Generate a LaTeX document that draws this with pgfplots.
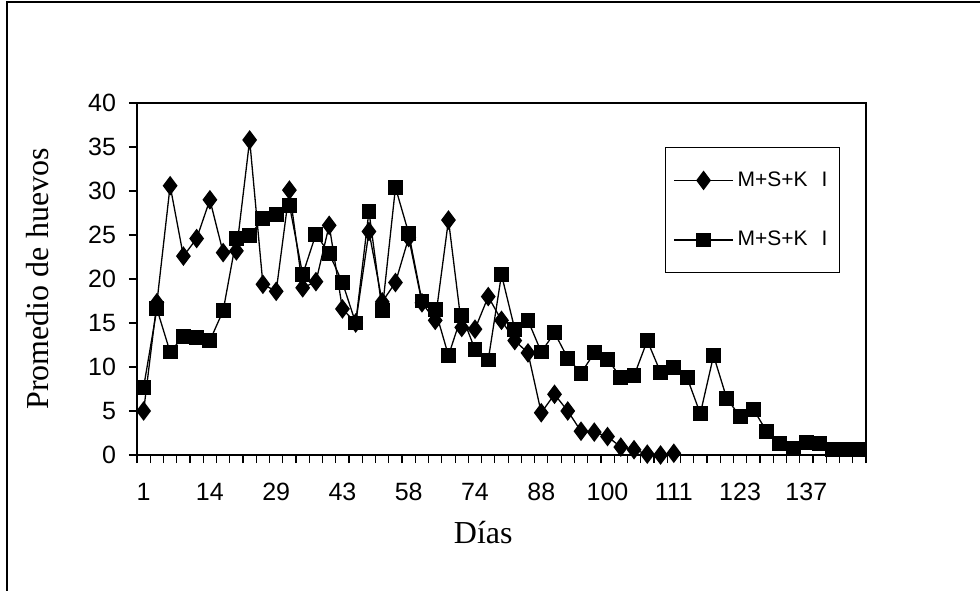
\documentclass[border=0pt]{standalone}
\usepackage{pgfplots}
\pgfplotsset{compat=1.18}
\usepackage{fontspec}
\usepackage{graphicx}
\setmainfont{Liberation Serif}
\newfontfamily\arialf{Liberation Sans}

\begin{document}
\begin{tikzpicture}
% page = 980x591 px at 0.5bp per px, axis origin at px (137,455)
\path[use as bounding box] (-68.5bp,-68bp) rectangle (421.5bp,227.5bp);
\draw[line width=0.7bp] (-65bp,-70bp) -- (-65bp,226.5bp) -- (425bp,226.5bp);
\begin{axis}[
  scale only axis,
  width=364.5bp, height=176bp,
  xmin=-0.5, xmax=54.5, ymin=0, ymax=40,
  axis line style={line width=0.7bp},
  tick style={black, line width=0.6bp},
  tick align=outside,
  xtick pos=bottom, ytick pos=left,
  major tick length=4bp,
  xtick={-0.5,0.5,...,54.5},
  xticklabels={},
  extra x ticks={0,5,...,50},
  extra x tick labels={1,14,29,43,58,74,88,100,111,123,137},
  extra x tick style={major tick length=0pt, xticklabel style={yshift=-10.5bp}},
  ytick={0,5,...,40},
  ticklabel style={font=\arialf\fontsize{12.5bp}{14bp}\selectfont},
  yticklabel style={xshift=-3bp},
  /pgf/number format/assume math mode=true,
  xlabel={Días},
  ylabel={Promedio de huevos},
  label style={font=\fontsize{16bp}{19bp}\selectfont},
  xlabel style={at={(axis description cs:0.475,-0.2216)}, anchor=center},
  ylabel style={at={(axis description cs:-0.137,0.5)}, anchor=center},
  legend style={at={(0.724,0.875)}, anchor=north west, draw=black, line width=0.6bp,
    font=\arialf\fontsize{10.5bp}{12bp}\selectfont, row sep=17bp,
    inner xsep=4bp, inner ysep=10bp},
  legend cell align=left,
  legend image code/.code={\draw[mark repeat=2,mark phase=2,#1] plot coordinates {(0bp,0bp) (14.75bp,0bp) (29.5bp,0bp)};},
]
\addplot[black, line width=0.65bp, mark=diamond*, mark size=4.4bp] coordinates {
(0,5.0) (1,17.3) (2,30.6) (3,22.6) (4,24.6) (5,29.0) (6,23.0) (7,23.2) (8,35.8) (9,19.4)
(10,18.6) (11,30.1) (12,19.0) (13,19.7) (14,26.1) (15,16.6) (16,15.0) (17,25.4) (18,17.4) (19,19.6)
(20,24.7) (21,17.3) (22,15.3) (23,26.7) (24,14.5) (25,14.3) (26,18.0) (27,15.3) (28,13.0) (29,11.6)
(30,4.8) (31,6.9) (32,5.0) (33,2.7) (34,2.6) (35,2.1) (36,0.9) (37,0.6) (38,0.1) (39,0.0) (40,0.2)
};
\addplot[black, line width=0.65bp, mark=square*, mark size=3.4bp] coordinates {
(0,7.7) (1,16.6) (2,11.7) (3,13.5) (4,13.4) (5,13.0) (6,16.4) (7,24.6) (8,24.9) (9,26.9)
(10,27.3) (11,28.4) (12,20.5) (13,25.1) (14,22.9) (15,19.6) (16,15.0) (17,27.7) (18,16.4) (19,30.4)
(20,25.2) (21,17.5) (22,16.5) (23,11.3) (24,15.9) (25,12.0) (26,10.8) (27,20.5) (28,14.3) (29,15.3)
(30,11.7) (31,13.9) (32,11.0) (33,9.3) (34,11.6) (35,10.9) (36,8.8) (37,9.0) (38,13.0) (39,9.4)
(40,9.9) (41,8.8) (42,4.7) (43,11.3) (44,6.4) (45,4.4) (46,5.2) (47,2.7) (48,1.3) (49,0.8)
(50,1.4) (51,1.3) (52,0.6) (53,0.6) (54,0.6)
};
\legend{M+S+K\hspace{4bp} I, M+S+K\hspace{4bp} I}
\end{axis}
\end{tikzpicture}
\end{document}
